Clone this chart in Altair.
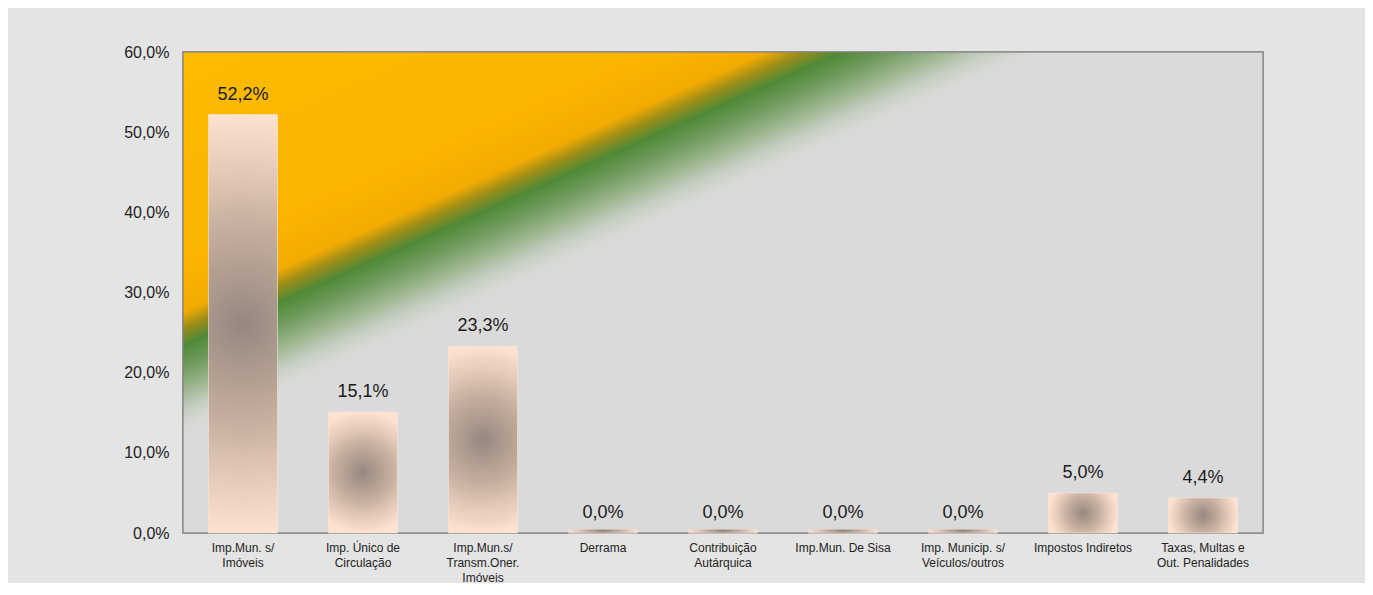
import altair as alt
import pandas as pd

# ---- data ----
categories = [
    "Imp.Mun. s/\nImóveis",
    "Imp. Único de\nCirculação",
    "Imp.Mun.s/\nTransm.Oner.\nImóveis",
    "Derrama",
    "Contribuição\nAutárquica",
    "Imp.Mun. De Sisa",
    "Imp. Municip. s/\nVeículos/outros",
    "Impostos Indiretos",
    "Taxas, Multas e\nOut. Penalidades",
]
values = [52.2, 15.1, 23.3, 0.0, 0.0, 0.0, 0.0, 5.0, 4.4]
y_ticks = [0, 10, 20, 30, 40, 50, 60]

df = pd.DataFrame({"cat": categories, "value": values})

W, H = 1080, 481

bar_grad = alt.RadialGradient(
    gradient="radial",
    x1=0.5, y1=0.5, r1=0, x2=0.5, y2=0.5, r2=0.5,
    stops=[
        alt.GradientStop(offset=0.0, color="#958680"),
        alt.GradientStop(offset=0.2, color="#ab998d"),
        alt.GradientStop(offset=0.45, color="#c4ad9e"),
        alt.GradientStop(offset=0.75, color="#e5cbbb"),
        alt.GradientStop(offset=1.0, color="#fde1d1"),
    ],
)

bg_grad = alt.LinearGradient(
    gradient="linear",
    x1=0, y1=0, x2=1, y2=1,
    stops=[
        alt.GradientStop(offset=0.0, color="#fdbb00"),
        alt.GradientStop(offset=0.22, color="#fbb500"),
        alt.GradientStop(offset=0.27, color="#f3ab02"),
        alt.GradientStop(offset=0.288, color="#9a8d18"),
        alt.GradientStop(offset=0.305, color="#4f8a37"),
        alt.GradientStop(offset=0.327, color="#6f9a5c"),
        alt.GradientStop(offset=0.352, color="#9db68f"),
        alt.GradientStop(offset=0.372, color="#c3cdbf"),
        alt.GradientStop(offset=0.39, color="#d8d9d6"),
        alt.GradientStop(offset=0.40, color="#dadada"),
        alt.GradientStop(offset=1.0, color="#dadada"),
    ],
)

x_enc = alt.X(
    "cat:N",
    sort=categories,
    scale=alt.Scale(paddingInner=0.425, paddingOuter=0.2125),
    axis=alt.Axis(
        title=None,
        labelAngle=0,
        labelExpr="split(datum.value, '\\n')",
        labelFont="Liberation Sans",
        labelFontSize=12,
        labelColor="#222222",
        labelLineHeight=15,
        labelPadding=9,
        labelBaseline="top",
        domain=False,
        ticks=False,
        grid=False,
    ),
)
y_enc = alt.Y(
    "value:Q",
    scale=alt.Scale(domain=[0, 60]),
    axis=alt.Axis(
        title=None,
        values=y_ticks,
        labelExpr="replace(format(datum.value, '.1f'), '.', ',') + '%'",
        labelFont="Liberation Sans",
        labelFontSize=16,
        labelColor="#222222",
        labelPadding=14,
        domain=False,
        ticks=False,
        grid=False,
    ),
)

backdrop = alt.Chart(pd.DataFrame({"k": [0]})).mark_rect(
    color=bg_grad, stroke="#7f7f7f", strokeOpacity=0.8, strokeWidth=1.5
).encode(
    x=alt.value(0), x2=alt.value("width"), y=alt.value(0), y2=alt.value("height")
)

base = alt.Chart(df).encode(x=x_enc, y=y_enc)

bars = base.mark_bar(color=bar_grad, stroke="#f6e6dc", strokeWidth=0.6)

zero_bars = base.transform_filter("datum.value == 0").mark_tick(
    color=bar_grad, thickness=3, size=69, yOffset=-2, opacity=1
)

labels = base.transform_calculate(
    label="replace(format(datum.value, '.1f'), '.', ',') + '%'"
).mark_text(
    dy=-20, baseline="middle", font="Liberation Sans", fontSize=18, color="#1a1a1a"
).encode(text="label:N")

chart = (
    alt.layer(backdrop, bars, zero_bars, labels)
    .properties(
        width=W,
        height=H,
        background="#e4e4e4",
        padding={"left": 175, "top": 44, "right": 102, "bottom": 50},
        autosize=alt.AutoSizeParams(type="none"),
    )
    .configure_view(stroke="#9a9a9a", strokeWidth=1.5)
)

chart.save("out.html", embed_options={"renderer": "svg", "actions": False})
